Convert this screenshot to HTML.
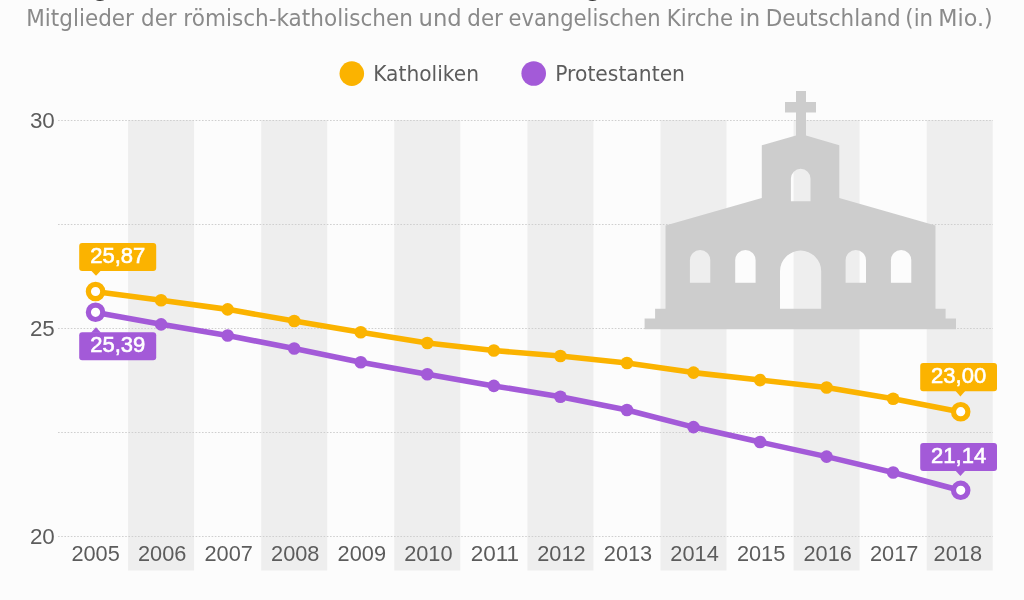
<!DOCTYPE html>
<html><head><meta charset="utf-8"><title>Kirchenmitglieder in Deutschland</title>
<style>
html,body{margin:0;padding:0;background:#fcfcfc;}
body{width:1024px;height:600px;overflow:hidden;position:relative;}
svg{position:absolute;left:0;top:0;display:block;will-change:transform;}
text{font-family:"Liberation Sans",Arial,sans-serif;}
text.dv{font-family:"DejaVu Sans",sans-serif;}
</style></head><body>
<svg width="1024" height="600" viewBox="0 0 1024 600">
<rect x="0" y="0" width="1024" height="600" fill="#fcfcfc"/>
<text x="25" y="-5.3" font-size="28" font-weight="bold" fill="#333" word-spacing="15">Evangelische Kirche verliert mehr Mitglieder als katholische</text>
<text y="25.5" font-size="23" fill="#8a8a8a" font-family="DejaVu Sans" class="dv"><tspan x="26.30" textLength="107.60" lengthAdjust="spacingAndGlyphs">Mitglieder</tspan> <tspan x="141.10" textLength="35.60" lengthAdjust="spacingAndGlyphs">der</tspan> <tspan x="183.30" textLength="229.65" lengthAdjust="spacingAndGlyphs">römisch-katholischen</tspan> <tspan x="418.50" textLength="43.20" lengthAdjust="spacingAndGlyphs">und</tspan> <tspan x="467.30" textLength="35.60" lengthAdjust="spacingAndGlyphs">der</tspan> <tspan x="508.50" textLength="152.00" lengthAdjust="spacingAndGlyphs">evangelischen</tspan> <tspan x="666.70" textLength="66.40" lengthAdjust="spacingAndGlyphs">Kirche</tspan> <tspan x="739.30" textLength="20.80" lengthAdjust="spacingAndGlyphs">in</tspan> <tspan x="765.70" textLength="135.00" lengthAdjust="spacingAndGlyphs">Deutschland</tspan> <tspan x="905.30" textLength="27.80" lengthAdjust="spacingAndGlyphs">(in</tspan> <tspan x="938.30" textLength="54.40" lengthAdjust="spacingAndGlyphs">Mio.)</tspan></text>
<circle cx="351.8" cy="73.6" r="12.3" fill="#fbb300"/>
<text x="373.2" y="81" font-size="21.3" fill="#5c5c5c" font-family="DejaVu Sans" class="dv" textLength="105.8" lengthAdjust="spacingAndGlyphs">Katholiken</text>
<circle cx="533.7" cy="73.5" r="12.3" fill="#a35ad8"/>
<text x="555.2" y="81" font-size="21.3" fill="#5c5c5c" font-family="DejaVu Sans" class="dv" textLength="129.8" lengthAdjust="spacingAndGlyphs">Protestanten</text>
<rect x="128.10" y="120" width="66" height="450.5" fill="#eeeeee"/>
<rect x="261.20" y="120" width="66" height="450.5" fill="#eeeeee"/>
<rect x="394.30" y="120" width="66" height="450.5" fill="#eeeeee"/>
<rect x="527.40" y="120" width="66" height="450.5" fill="#eeeeee"/>
<rect x="660.50" y="120" width="66" height="450.5" fill="#eeeeee"/>
<rect x="793.60" y="120" width="66" height="450.5" fill="#eeeeee"/>
<rect x="926.70" y="120" width="66" height="450.5" fill="#eeeeee"/>
<line x1="58" y1="120.5" x2="993" y2="120.5" stroke="#cfcfcf" stroke-width="1" stroke-dasharray="1.6 1.6"/>
<line x1="58" y1="224.5" x2="993" y2="224.5" stroke="#cfcfcf" stroke-width="1" stroke-dasharray="1.6 1.6"/>
<line x1="58" y1="328.5" x2="993" y2="328.5" stroke="#cfcfcf" stroke-width="1" stroke-dasharray="1.6 1.6"/>
<line x1="58" y1="432.5" x2="993" y2="432.5" stroke="#cfcfcf" stroke-width="1" stroke-dasharray="1.6 1.6"/>
<line x1="58" y1="536.5" x2="993" y2="536.5" stroke="#cfcfcf" stroke-width="1" stroke-dasharray="1.6 1.6"/>
<text x="54.8" y="128.0" font-size="22.4" fill="#5c5c5c" text-anchor="end">30</text>
<text x="54.8" y="336.0" font-size="22.4" fill="#5c5c5c" text-anchor="end">25</text>
<text x="54.8" y="544.0" font-size="22.4" fill="#5c5c5c" text-anchor="end">20</text>
<text x="71.40" y="561.2" font-size="22.6" fill="#5c5c5c" textLength="48.4" lengthAdjust="spacingAndGlyphs">2005</text>
<text x="137.95" y="561.2" font-size="22.6" fill="#5c5c5c" textLength="48.4" lengthAdjust="spacingAndGlyphs">2006</text>
<text x="204.50" y="561.2" font-size="22.6" fill="#5c5c5c" textLength="48.4" lengthAdjust="spacingAndGlyphs">2007</text>
<text x="271.05" y="561.2" font-size="22.6" fill="#5c5c5c" textLength="48.4" lengthAdjust="spacingAndGlyphs">2008</text>
<text x="337.60" y="561.2" font-size="22.6" fill="#5c5c5c" textLength="48.4" lengthAdjust="spacingAndGlyphs">2009</text>
<text x="404.15" y="561.2" font-size="22.6" fill="#5c5c5c" textLength="48.4" lengthAdjust="spacingAndGlyphs">2010</text>
<text x="470.70" y="561.2" font-size="22.6" fill="#5c5c5c" textLength="48.4" lengthAdjust="spacingAndGlyphs">2011</text>
<text x="537.25" y="561.2" font-size="22.6" fill="#5c5c5c" textLength="48.4" lengthAdjust="spacingAndGlyphs">2012</text>
<text x="603.80" y="561.2" font-size="22.6" fill="#5c5c5c" textLength="48.4" lengthAdjust="spacingAndGlyphs">2013</text>
<text x="670.35" y="561.2" font-size="22.6" fill="#5c5c5c" textLength="48.4" lengthAdjust="spacingAndGlyphs">2014</text>
<text x="736.90" y="561.2" font-size="22.6" fill="#5c5c5c" textLength="48.4" lengthAdjust="spacingAndGlyphs">2015</text>
<text x="803.45" y="561.2" font-size="22.6" fill="#5c5c5c" textLength="48.4" lengthAdjust="spacingAndGlyphs">2016</text>
<text x="870.00" y="561.2" font-size="22.6" fill="#5c5c5c" textLength="48.4" lengthAdjust="spacingAndGlyphs">2017</text>
<text x="933.60" y="561.2" font-size="22.6" fill="#5c5c5c" textLength="48.4" lengthAdjust="spacingAndGlyphs">2018</text>
<path d="M796,91 L806,91 L806,102 L816,102 L816,112.5 L806,112.5 L806,135.5 L839.3,145.3 L839.3,198 L935.5,225.5 L935.5,308.8 L945.6,308.8 L945.6,318.6 L956,318.6 L956,329.2 L644.6,329.2 L644.6,318.6 L655.1,318.6 L655.1,308.8 L665.5,308.8 L665.5,225.5 L761.8,198 L761.8,145.3 L796,135.5 L796,112.5 L785,112.5 L785,102 L796,102 Z M689.9,282.8 L689.9,260.20000000000005 A10.200000000000045,10.200000000000045 0 0 1 710.3000000000001,260.20000000000005 L710.3000000000001,282.8 Z M735.1999999999999,282.8 L735.1999999999999,260.20000000000005 A10.200000000000045,10.200000000000045 0 0 1 755.6,260.20000000000005 L755.6,282.8 Z M845.6,282.8 L845.6,260.20000000000005 A10.200000000000045,10.200000000000045 0 0 1 866.0000000000001,260.20000000000005 L866.0000000000001,282.8 Z M890.9,282.8 L890.9,260.20000000000005 A10.200000000000045,10.200000000000045 0 0 1 911.3000000000001,260.20000000000005 L911.3000000000001,282.8 Z M780,308.8 L780,271.20000000000005 A20.600000000000023,20.600000000000023 0 0 1 821.2,271.20000000000005 L821.2,308.8 Z M790.9,201.3 L790.9,178.60000000000002 A9.800000000000011,9.800000000000011 0 0 1 810.5,178.60000000000002 L810.5,201.3 Z" fill="#cdcdcd" fill-rule="evenodd"/>
<polyline points="94.55,312.28 161.10,324.34 227.65,335.57 294.20,348.47 360.75,362.20 427.30,374.26 493.85,385.91 560.40,396.72 626.95,410.04 693.50,427.09 760.05,442.07 826.60,456.63 893.15,472.44 959.70,490.32" fill="none" stroke="#a35ad8" stroke-width="5.6" stroke-linejoin="round" stroke-linecap="round"/>
<circle cx="95.55" cy="312.28" r="7.2" fill="#fff" stroke="#a35ad8" stroke-width="5.2"/>
<circle cx="161.10" cy="324.34" r="6.3" fill="#a35ad8"/>
<circle cx="227.65" cy="335.57" r="6.3" fill="#a35ad8"/>
<circle cx="294.20" cy="348.47" r="6.3" fill="#a35ad8"/>
<circle cx="360.75" cy="362.20" r="6.3" fill="#a35ad8"/>
<circle cx="427.30" cy="374.26" r="6.3" fill="#a35ad8"/>
<circle cx="493.85" cy="385.91" r="6.3" fill="#a35ad8"/>
<circle cx="560.40" cy="396.72" r="6.3" fill="#a35ad8"/>
<circle cx="626.95" cy="410.04" r="6.3" fill="#a35ad8"/>
<circle cx="693.50" cy="427.09" r="6.3" fill="#a35ad8"/>
<circle cx="760.05" cy="442.07" r="6.3" fill="#a35ad8"/>
<circle cx="826.60" cy="456.63" r="6.3" fill="#a35ad8"/>
<circle cx="893.15" cy="472.44" r="6.3" fill="#a35ad8"/>
<circle cx="960.70" cy="490.32" r="7.2" fill="#fff" stroke="#a35ad8" stroke-width="5.2"/>
<polyline points="94.55,291.48 161.10,300.21 227.65,309.36 294.20,321.01 360.75,332.24 427.30,343.06 493.85,350.55 560.40,355.96 626.95,363.03 693.50,372.60 760.05,380.08 826.60,387.57 893.15,398.80 959.70,411.70" fill="none" stroke="#fbb300" stroke-width="5.6" stroke-linejoin="round" stroke-linecap="round"/>
<circle cx="95.55" cy="291.48" r="7.2" fill="#fff" stroke="#fbb300" stroke-width="5.2"/>
<circle cx="161.10" cy="300.21" r="6.3" fill="#fbb300"/>
<circle cx="227.65" cy="309.36" r="6.3" fill="#fbb300"/>
<circle cx="294.20" cy="321.01" r="6.3" fill="#fbb300"/>
<circle cx="360.75" cy="332.24" r="6.3" fill="#fbb300"/>
<circle cx="427.30" cy="343.06" r="6.3" fill="#fbb300"/>
<circle cx="493.85" cy="350.55" r="6.3" fill="#fbb300"/>
<circle cx="560.40" cy="355.96" r="6.3" fill="#fbb300"/>
<circle cx="626.95" cy="363.03" r="6.3" fill="#fbb300"/>
<circle cx="693.50" cy="372.60" r="6.3" fill="#fbb300"/>
<circle cx="760.05" cy="380.08" r="6.3" fill="#fbb300"/>
<circle cx="826.60" cy="387.57" r="6.3" fill="#fbb300"/>
<circle cx="893.15" cy="398.80" r="6.3" fill="#fbb300"/>
<circle cx="960.70" cy="411.70" r="7.2" fill="#fff" stroke="#fbb300" stroke-width="5.2"/>
<rect x="79.2" y="243" width="76.99999999999999" height="28" rx="3" fill="#fbb300"/>
<path d="M91,270.5 L96,275.8 L101,270.5 Z" fill="#fbb300"/>
<text x="117.69999999999999" y="262.8" font-size="22" fill="#fff" stroke="#fff" stroke-width="0.6" text-anchor="middle">25,87</text>
<rect x="79.2" y="332.2" width="76.99999999999999" height="28.0" rx="3" fill="#a35ad8"/>
<path d="M91,332.7 L96,327.2 L101,332.7 Z" fill="#a35ad8"/>
<text x="117.69999999999999" y="352.0" font-size="22" fill="#fff" stroke="#fff" stroke-width="0.6" text-anchor="middle">25,39</text>
<rect x="920.2" y="363" width="76.79999999999995" height="28.19999999999999" rx="3" fill="#fbb300"/>
<path d="M955.4,390.7 L960.4,396.6 L965.4,390.7 Z" fill="#fbb300"/>
<text x="958.6" y="382.90000000000003" font-size="22" fill="#fff" stroke="#fff" stroke-width="0.6" text-anchor="middle">23,00</text>
<rect x="920.2" y="443" width="76.79999999999995" height="28" rx="3" fill="#a35ad8"/>
<path d="M955.4,470.5 L960.4,476 L965.4,470.5 Z" fill="#a35ad8"/>
<text x="958.6" y="462.8" font-size="22" fill="#fff" stroke="#fff" stroke-width="0.6" text-anchor="middle">21,14</text>
</svg>
</body></html>
